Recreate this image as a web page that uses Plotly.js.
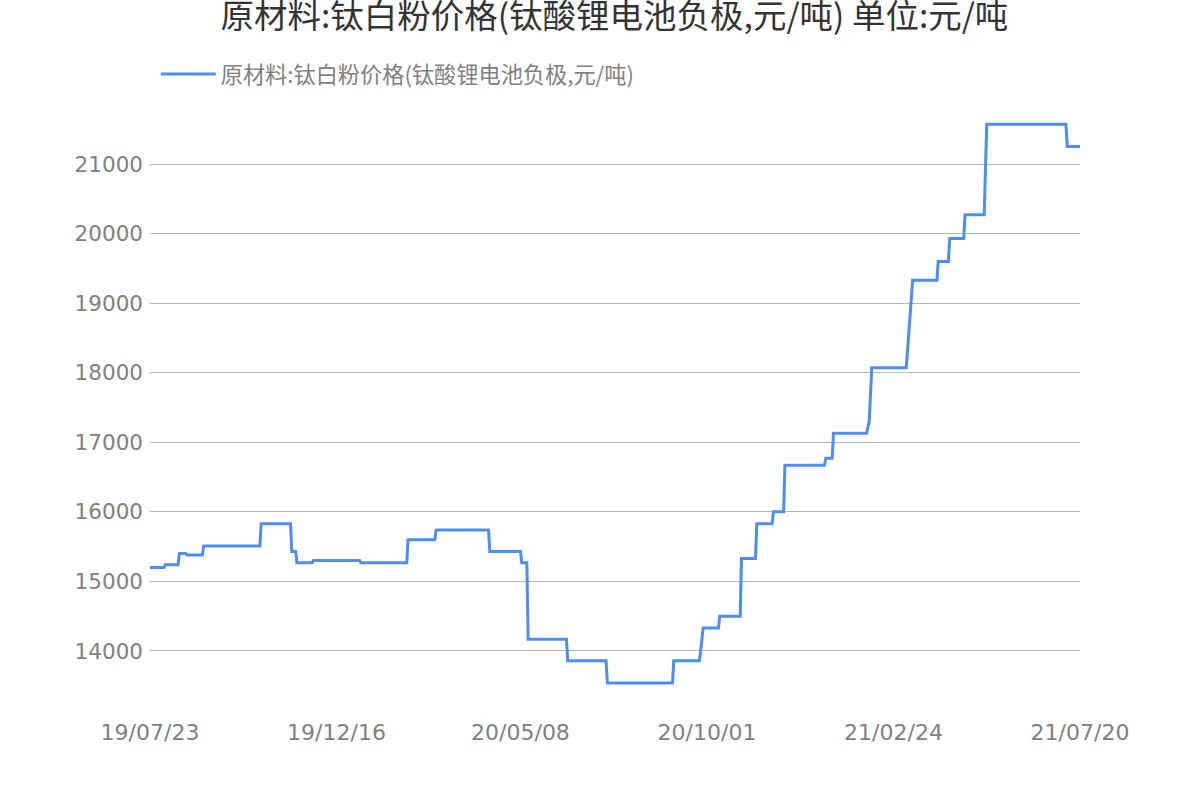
<!DOCTYPE html>
<html>
<head>
<meta charset="utf-8">
<script src="https://cdn.plot.ly/plotly-3.0.1.min.js"></script>
<style>html,body{margin:0;padding:0;background:#fff;}#chart{width:1200px;height:800px;}</style>
</head>
<body>
<div id="chart"></div>
<script>
const chartTitle = "原材料:钛白粉价格(钛酸锂电池负极,元/吨) 单位:元/吨";
const seriesName = "原材料:钛白粉价格(钛酸锂电池负极,元/吨)";

const dates = [
  "2019-07-23","2019-08-03","2019-08-04","2019-08-14","2019-08-15","2019-08-20","2019-08-21","2019-09-02",
  "2019-09-03","2019-10-17","2019-10-18","2019-11-10","2019-11-11","2019-11-14","2019-11-15","2019-11-27",
  "2019-11-28","2020-01-03","2020-01-04","2020-02-09","2020-02-10","2020-03-02","2020-03-03","2020-04-13",
  "2020-04-14","2020-05-08","2020-05-09","2020-05-13","2020-05-14","2020-06-13","2020-06-14","2020-07-14",
  "2020-07-15","2020-09-04","2020-09-05","2020-09-25","2020-09-26","2020-09-28","2020-10-10","2020-10-11",
  "2020-10-27","2020-10-28","2020-11-08","2020-11-09","2020-11-21","2020-11-22","2020-11-30","2020-12-01",
  "2021-01-01","2021-01-02","2021-01-07","2021-01-08","2021-02-03","2021-02-05","2021-02-07","2021-03-06",
  "2021-03-11","2021-03-30","2021-03-31","2021-04-08","2021-04-09","2021-04-20","2021-04-21","2021-05-06",
  "2021-05-08","2021-07-09","2021-07-10","2021-07-20"
];
const prices = [
  15200,15200,15240,15240,15400,15400,15380,15380,
  15510,15510,15830,15830,15430,15430,15270,15270,
  15300,15300,15270,15270,15600,15600,15740,15740,
  15430,15430,15270,15270,14170,14170,13860,13860,
  13540,13540,13860,13860,13990,14330,14330,14500,
  14500,15330,15330,15830,15830,16000,16000,16670,
  16670,16770,16770,17130,17130,17300,18070,18070,
  19330,19330,19600,19600,19930,19930,20270,20270,
  21570,21570,21250,21250
];

const tickDates = ["2019-07-23","2019-12-16","2020-05-08","2020-10-01","2021-02-24","2021-07-20"];
const tickLabels = ["19/07/23","19/12/16","20/05/08","20/10/01","21/02/24","21/07/20"];
const yTicks = [14000,15000,16000,17000,18000,19000,20000,21000];

const trace = {
  x: dates, y: prices, type: "scatter", mode: "lines", name: seriesName,
  line: {color: "#4f8cf6", width: 3}
};

const layout = {
  width: 1200, height: 800,
  paper_bgcolor: "#fff", plot_bgcolor: "#fff",
  margin: {l: 150, r: 120, t: 105, b: 88},
  title: {
    text: chartTitle, x: 0.512, xanchor: "center", y: 0.98, yanchor: "middle", yref: "container",
    font: {family: "Noto Sans CJK SC, DejaVu Sans, sans-serif", size: 33.5, color: "#333333"}
  },
  showlegend: true,
  legend: {
    orientation: "h", x: 0.0062, xanchor: "left", y: 1.051, yanchor: "middle",
    itemwidth: 55,
    font: {family: "Noto Sans CJK SC, DejaVu Sans, sans-serif", size: 22.2, color: "#808080"}
  },
  xaxis: {
    type: "date", range: ["2019-07-23", "2021-07-20"],
    tickmode: "array", tickvals: tickDates, ticktext: tickLabels,
    showgrid: false, zeroline: false, showline: false, ticks: "",
    tickfont: {family: "DejaVu Sans, sans-serif", size: 22, color: "#808080"},
    ticklabelstandoff: 5
  },
  yaxis: {
    range: [13123, 21848],
    tickmode: "array", tickvals: yTicks, ticktext: yTicks.map(String),
    showgrid: true, gridcolor: "#b5b5b5", gridwidth: 1,
    zeroline: false, showline: false, ticks: "",
    tickfont: {family: "DejaVu Sans, sans-serif", size: 21.5, color: "#808080"},
    ticklabelstandoff: 6
  }
};

Plotly.newPlot("chart", [trace], layout, {displayModeBar: false, staticPlot: true});
</script>
</body>
</html>
